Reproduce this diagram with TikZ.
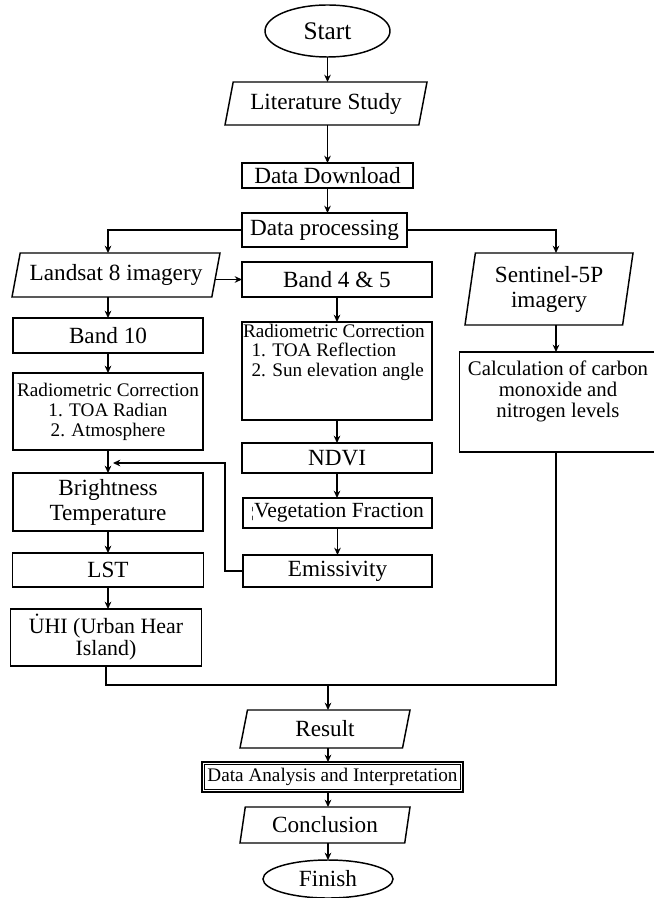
\documentclass[tikz,border=0pt]{standalone}
\usepackage{fontspec}
\setmainfont{Liberation Serif}
\usetikzlibrary{shapes.geometric,arrows.meta,calc}
\newdimen\pxu \pxu=0.75pt
\newcommand\mainsz{\fontsize{17.4}{18.8}\selectfont}
\newcommand\termsz{\fontsize{19}{20}\selectfont}
\newcommand\smallsz{\fontsize{14.4}{15}\selectfont}
\newcommand\calcsz{\fontsize{15.6}{15.8}\selectfont}
\newcommand\uhisz{\fontsize{16.4}{17.2}\selectfont}
\begin{document}
\begin{tikzpicture}[x=0.75pt,y=-0.75pt,
  every node/.style={outer sep=0pt},
  box/.style={draw, rectangle, line width=1.1pt, inner sep=1pt, align=center, font=\mainsz},
  para/.style={draw, trapezium, trapezium stretches body, line width=1.1pt, inner sep=1pt, align=center, font=\mainsz},
  term/.style={draw, ellipse, line width=1.1pt, inner sep=1pt, font=\termsz},
  arr/.style={-{Stealth[length=5.5pt,width=5pt]}, line width=1.1pt},
  ln/.style={line width=1.1pt}]
\useasboundingbox (0,0) rectangle (653,898);

% centre column
\node[term, minimum width=125\pxu, minimum height=52\pxu] (start) at (327.5,31) {Start};
\node[para, trapezium left angle=71, trapezium right angle=109, minimum width=202\pxu, minimum height=43\pxu] (lit) at (326,103.5) {Literature Study};
\node[box, minimum width=171\pxu, minimum height=25\pxu] (dd) at (327.5,175.5) {Data Download};
\node[box, minimum width=165\pxu, minimum height=34\pxu] (dp) at (324.5,230) {Data processing};

% left column
\node[para, trapezium left angle=71, trapezium right angle=109, minimum width=208\pxu, minimum height=44\pxu] (ls) at (116,275) {Landsat 8 imagery};
\node[box, minimum width=190\pxu, minimum height=35\pxu] (b10) at (108,335.5) {Band 10};
\node[box, minimum width=190\pxu, minimum height=77\pxu, font=\smallsz] (radl) at (108,411.5) {Radiometric Correction\\1. TOA Radian\\2. Atmosphere};
\node[box, minimum width=190\pxu, minimum height=58\pxu] (bt) at (108,502) {Brightness\\Temperature};
\node[box, minimum width=191\pxu, minimum height=34\pxu] (lst) at (108,570) {LST};
\node[box, minimum width=191\pxu, minimum height=57\pxu, font=\uhisz] (uhi) at (106,637.5) {\.{U}HI (Urban Hear\\Island)};

% middle column
\node[box, minimum width=190\pxu, minimum height=35\pxu] (b45) at (337,279.5) {Band 4 \& 5};
\node[box, minimum width=190\pxu, minimum height=98\pxu, inner sep=0pt, font=\smallsz] (radc) at (337,371)
  {\parbox[c][70pt][t]{141pt}{\raggedright Radiometric Correction\\[-0.5pt]
   \hspace*{0.45em}1. TOA Reflection\\[-0.5pt]\hspace*{0.45em}2. Sun elevation angle}};
\node[box, minimum width=190\pxu, minimum height=30\pxu] (ndvi) at (337,458) {NDVI};
\node[box, minimum width=189\pxu, minimum height=30\pxu, font=\fontsize{16.2}{17}\selectfont] (vf) at (337.5,513) {{\fontsize{11}{12}\selectfont ¦}Vegetation Fraction};
\node[box, minimum width=189\pxu, minimum height=32\pxu] (emis) at (337.5,571) {Emissivity};

% right column
\node[para, trapezium left angle=78, trapezium right angle=102, minimum width=168\pxu, minimum height=72\pxu] (sen) at (549,289) {Sentinel-5P\\imagery};
\node[box, minimum width=194\pxu, minimum height=100\pxu, font=\calcsz] (calc) at (558,402)
  {\parbox[c][62pt][t]{146pt}{\centering Calculation of carbon\\monoxide and\\nitrogen levels}};

% bottom
\coordinate (merge) at (328,685);
\coordinate (fb) at (113,463);
\node[para, trapezium left angle=68.5, trapezium right angle=111.5, minimum width=170\pxu, minimum height=38\pxu] (res) at (325,729) {Result};
\node[box, minimum width=261\pxu, minimum height=30\pxu, font=\smallsz] (da) at (332.5,777) {Data Analysis and Interpretation};
\draw[line width=0.6pt] ([shift={(2.5,2.5)}]da.north west) rectangle ([shift={(-2.5,-2.5)}]da.south east);
\node[para, trapezium left angle=74.5, trapezium right angle=105.5, minimum width=170\pxu, minimum height=36\pxu] (con) at (325,825) {Conclusion};
\node[term, minimum width=130\pxu, minimum height=38\pxu, font=\mainsz] (fin) at (328,879) {Finish};

% connectors
\draw[arr] (start.south) -- (start.south |- lit.north);
\draw[arr] (dd.north |- lit.south) -- (dd.north);
\draw[arr] (dd.south) -- (dd.south |- dp.north);
\draw[arr] (dp.west) -| (b10.north |- ls.north);
\draw[arr] (dp.east) -| ([xshift=-2\pxu]calc.north |- sen.north);
\draw[arr] (b10.north |- ls.south) -- (b10.north);
\draw[arr] (b45.west -| ls.east) -- (b45.west);
\draw[arr] ([xshift=-2\pxu]calc.north |- sen.south) -- ([xshift=-2\pxu]calc.north);
\draw[arr] (b10.south) -- (radl.north);
\draw[arr] (radl.south) -- (bt.north);
\draw[arr] (bt.south) -- (lst.north);
\draw[arr] (lst.south) -- (lst.south |- uhi.north);
\draw[arr] (b45.south) -- (radc.north);
\draw[arr] (radc.south) -- (ndvi.north);
\draw[arr] (ndvi.south) -- (ndvi.south |- vf.north);
\draw[arr] (vf.south) -- (emis.north);
\draw[arr] (emis.west) -- ++(-18,0) |- (fb);
\draw[ln] (uhi.south) |- (merge) -| ([xshift=-2\pxu]calc.south);
\draw[arr] (merge) -- (merge |- res.north);
\draw[arr] (merge |- res.south) -- (merge |- da.north);
\draw[arr] (merge |- da.south) -- (merge |- con.north);
\draw[arr] (merge |- con.south) -- (fin.north);
\end{tikzpicture}
\end{document}
